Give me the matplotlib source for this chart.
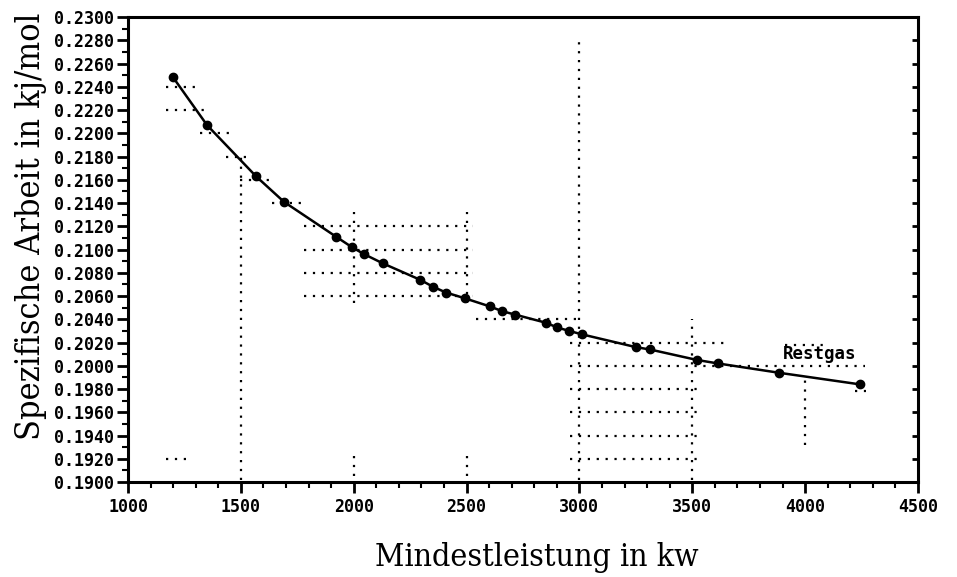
import matplotlib
matplotlib.use("Agg")
from matplotlib import pyplot as plt
from matplotlib.ticker import MultipleLocator, FormatStrFormatter

# measured points of the curve
leistung = [1200, 1350, 1567, 1691, 1922, 1992, 2046, 2130, 2294, 2351, 2409, 2493,
            2604, 2657, 2715, 2852, 2901, 2954, 3012, 3251, 3313, 3521, 3614, 3884, 4243]
arbeit = [0.2248, 0.2207, 0.2163, 0.2141, 0.2111, 0.2102, 0.2096, 0.2088, 0.2074, 0.2068,
          0.2063, 0.2058, 0.2051, 0.2047, 0.2044, 0.2037, 0.2033, 0.2030, 0.2027, 0.2016,
          0.2014, 0.2005, 0.2002, 0.1994, 0.1984]

# dotted helper lines: (y, x_start, x_end)
h_lines = [
    (0.2240, 1170, 1300), (0.2220, 1170, 1355), (0.2200, 1320, 1465),
    (0.2180, 1435, 1550), (0.2160, 1495, 1650), (0.2140, 1640, 1795),
    (0.2120, 1780, 2530), (0.2100, 1780, 2530), (0.2080, 1780, 2530), (0.2060, 1780, 2530),
    (0.2040, 2540, 2990), (0.2020, 2960, 3650), (0.2000, 2960, 4265),
    (0.1980, 2960, 3530), (0.1960, 2960, 3530), (0.1940, 2960, 3530), (0.1920, 2960, 3530),
    (0.1920, 1170, 1260), (0.2018, 3910, 4100), (0.1978, 4220, 4270),
]
# dotted helper lines: (x, y_start, y_end)
v_lines = [
    (1500, 0.1902, 0.2180), (2000, 0.2054, 0.2132), (2500, 0.2054, 0.2132),
    (2000, 0.1905, 0.1925), (2500, 0.1905, 0.1925),
    (3000, 0.1902, 0.2282), (3500, 0.1902, 0.2040), (4000, 0.1932, 0.1992),
]

plt.rcParams['font.family'] = ['DejaVu Sans Mono']
fig = plt.figure(figsize=(9.57, 5.77), dpi=100)
ax = fig.add_axes([0.1338, 0.1646, 0.8254, 0.8059])

for y, x0, x1 in h_lines:
    ax.plot([x0, x1], [y, y], color='black', linestyle=(0, (1, 3)), linewidth=1.6)
for x, y0, y1 in v_lines:
    ax.plot([x, x], [y0, y1], color='black', linestyle=(0, (1, 3)), linewidth=1.6)

ax.plot(leistung, arbeit, color='black', linewidth=1.8, marker='o', markersize=6)

ax.text(3900, 0.2010, 'Restgas', fontsize=12.5, fontweight='bold', ha='left', va='center')

ax.set_xlim(1000, 4500)
ax.set_ylim(0.1900, 0.2300)
ax.xaxis.set_major_locator(MultipleLocator(500))
ax.xaxis.set_minor_locator(MultipleLocator(100))
ax.yaxis.set_major_locator(MultipleLocator(0.002))
ax.yaxis.set_minor_locator(MultipleLocator(0.001))
ax.yaxis.set_major_formatter(FormatStrFormatter('%.4f'))

ax.tick_params(axis='both', which='major', labelsize=12, width=2, length=8)
ax.tick_params(axis='both', which='minor', width=1.5, length=4)
ax.tick_params(axis='y', which='major', pad=2)
for lab in ax.get_xticklabels() + ax.get_yticklabels():
    lab.set_fontweight('bold')

for side in ['left', 'bottom', 'top', 'right']:
    ax.spines[side].set_linewidth(2.2)

# short inward ticks on the right edge
twin = ax.twinx()
twin.set_ylim(ax.get_ylim())
twin.yaxis.set_major_locator(MultipleLocator(0.002))
twin.tick_params(axis='y', which='major', direction='in', length=4, width=2, labelright=False)
twin.tick_params(axis='y', which='minor', right=False)
for side in ['left', 'bottom', 'top', 'right']:
    twin.spines[side].set_visible(False)

ax.set_xlabel('Mindestleistung in kw', fontsize=23, family='DejaVu Serif',
              fontstretch='condensed')
ax.xaxis.set_label_coords(0.518, -0.13)
ax.set_ylabel('Spezifische Arbeit in kj/mol', fontsize=24.5, family='DejaVu Serif',
              fontstretch='condensed')
ax.yaxis.set_label_coords(-0.103, 0.55)

fig.savefig('out.png', dpi=100)
